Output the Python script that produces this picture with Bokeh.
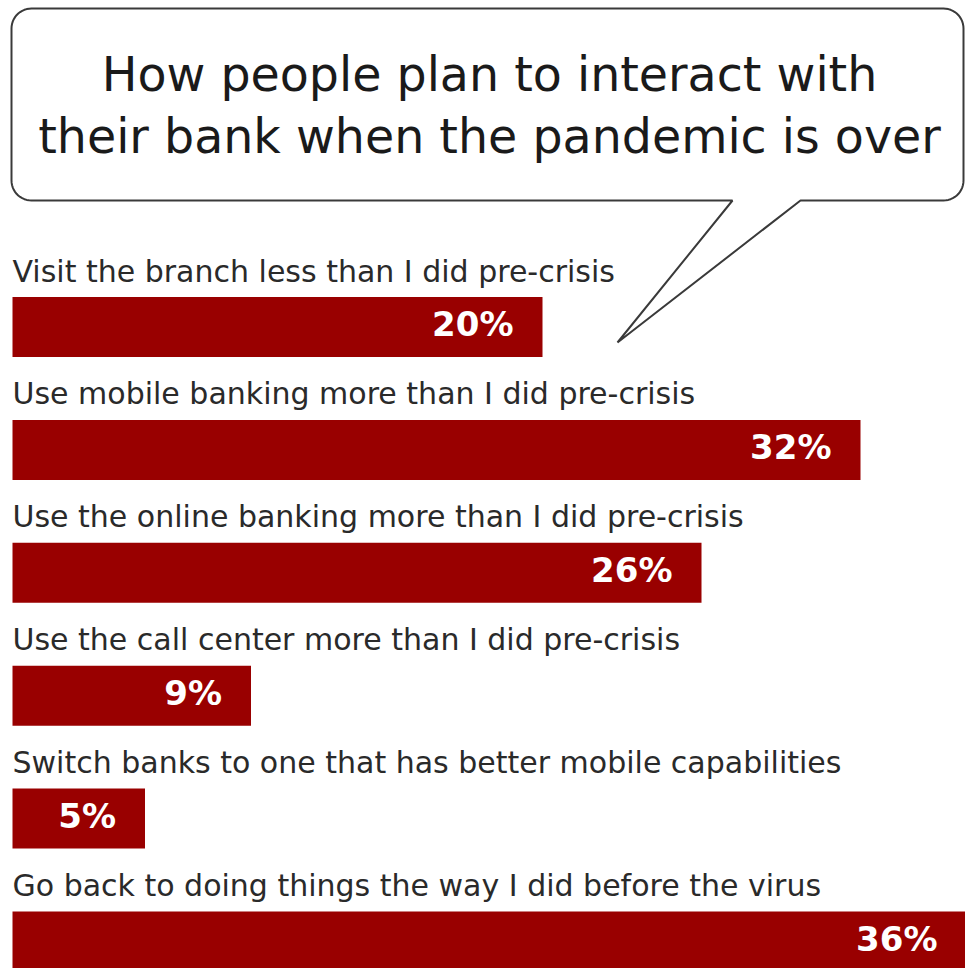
import numpy as np
from bokeh.plotting import figure
from bokeh.models import Range1d, ColumnDataSource
from bokeh.embed import file_html
from bokeh.resources import INLINE
from bokeh.core.properties import value

# ---- data ----
title_lines = ["How people plan to interact with",
               "their bank when the pandemic is over"]
categories = [
    "Visit the branch less than I did pre-crisis",
    "Use mobile banking more than I did pre-crisis",
    "Use the online banking more than I did pre-crisis",
    "Use the call center more than I did pre-crisis",
    "Switch banks to one that has better mobile capabilities",
    "Go back to doing things the way I did before the virus",
]
values = [20, 32, 26, 9, 5, 36]
value_labels = ["20%", "32%", "26%", "9%", "5%", "36%"]

# ---- layout ----
W, H = 965, 968
PX_PER_PCT = 26.5
LEFT = 12
BAR_C0, BAR_STEP, BAR_H = 326.5, 122.9, 60
BAR_COLOR = "#990000"
FONT = "DejaVu Sans"

p = figure(width=W, height=H,
           x_range=Range1d(-LEFT / PX_PER_PCT, (W - LEFT) / PX_PER_PCT),
           y_range=Range1d(H, 0),
           output_backend="svg", toolbar_location=None, min_border=0,
           x_axis_location=None, y_axis_location=None)
p.extra_x_ranges = {"px": Range1d(0, W)}
p.grid.visible = False
p.outline_line_color = None
p.background_fill_color = "white"
p.border_fill_color = "white"

# ---- speech bubble ----
def arc(cx, cy, r, a0, a1, n=14):
    a = np.radians(np.linspace(a0, a1, n))
    return list(cx + r * np.cos(a)), list(cy + r * np.sin(a))

L, T, R, B, r = 11, 8, 963, 200, 20
xs, ys = [], []
def add(px, py):
    xs.extend(px); ys.extend(py)
add([L + r, R - r], [T, T])
add(*arc(R - r, T + r, r, -90, 0))
add([R, R], [T + r, B - r])
add(*arc(R - r, B - r, r, 0, 90))
add([800, 617, 732], [B, 342, B])
add([L + r], [B])
add(*arc(L + r, B - r, r, 90, 180))
add([L, L], [B - r, T + r])
add(*arc(L + r, T + r, r, 180, 270))
p.patch(xs, ys, x_range_name="px", fill_color="white",
        line_color="#3a3a3a", line_width=2)

p.text(x=[489, 489], y=[74, 136], text=title_lines, x_range_name="px",
       text_align="center", text_baseline="middle",
       text_font=value(FONT), text_font_size="47.5px", text_color="#1a1a1a")

# ---- bars ----
ypos = [BAR_C0 + i * BAR_STEP for i in range(len(values))]
src = ColumnDataSource(dict(y=ypos, v=values, lab=value_labels, cat=categories,
                            ylab=[y - 56 for y in ypos]))
p.hbar(y="y", left=0, right="v", height=BAR_H, source=src,
       fill_color=BAR_COLOR, line_color=None)
p.text(x="v", y="y", text="lab", source=src, x_offset=-29, y_offset=-3,
       text_align="right", text_baseline="middle",
       text_font=value(FONT), text_font_style="bold",
       text_font_size="34px", text_color="white")
p.text(x=0, y="ylab", text="cat", source=src,
       text_align="left", text_baseline="middle",
       text_font=value(FONT), text_font_size="30px", text_color="#2a2a2a")

open("out.html", "w").write(file_html(p, INLINE))
